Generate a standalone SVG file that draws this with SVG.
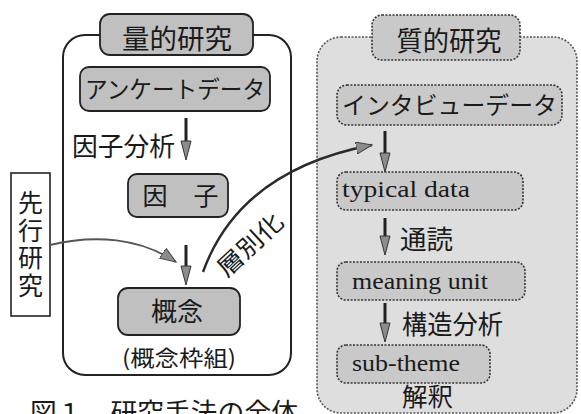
<svg xmlns="http://www.w3.org/2000/svg" width="581" height="414" viewBox="0 0 581 414">
<style>
.jp{font-family:"Noto Sans CJK JP","Noto Sans",sans-serif;fill:#1a1a1a}
.en{font-family:"Liberation Serif",serif;fill:#1a1a1a}
.box{fill:#c0c0c0;stroke:#222;stroke-width:1.8}
.qbox{fill:#c9c9c9;stroke:#333;stroke-width:1.6;stroke-dasharray:2 1.5}
.shaft{stroke:#222;stroke-width:3;fill:none}
.head{fill:#8c8c8c;stroke:#333;stroke-width:1}
</style>
<defs>
<marker id="ah" markerWidth="20" markerHeight="14" refX="16" refY="6" orient="auto" markerUnits="userSpaceOnUse">
<path d="M0,0 L16,6 L0,12 Z" fill="#8c8c8c" stroke="#444" stroke-width="1"/>
</marker>
</defs>
<rect width="581" height="414" fill="#fff"/>

<g id="quant-container">
<rect x="63" y="35" width="228" height="340" rx="22" fill="#fff" stroke="#222" stroke-width="2"/>
</g>
<g id="qual-container">
<rect x="317" y="37" width="260" height="376" rx="24" fill="#dedede" stroke="#555" stroke-width="1.6" stroke-dasharray="2 1.5"/>
</g>

<g id="quant-title">
<rect class="box" x="100" y="14" width="153" height="41" rx="10"/>
<text class="jp" x="177" y="49" font-size="27" text-anchor="middle" textLength="110" lengthAdjust="spacingAndGlyphs">量的研究</text>
</g>
<g id="survey">
<rect class="box" x="80" y="67" width="190" height="44" rx="9"/>
<text class="jp" x="175" y="98" font-size="24" text-anchor="middle" textLength="180" lengthAdjust="spacingAndGlyphs">アンケートデータ</text>
</g>
<g id="factor-label">
<text class="jp" x="72" y="156" font-size="26" textLength="103" lengthAdjust="spacingAndGlyphs">因子分析</text>
</g>
<g id="factor">
<rect class="box" x="128" y="174" width="100" height="43" rx="9"/>
<text class="jp" x="155" y="205" font-size="25" text-anchor="middle">因</text>
<text class="jp" x="206" y="205" font-size="25" text-anchor="middle">子</text>
</g>
<g id="prior">
<rect x="11" y="173" width="39" height="143" fill="#fff" stroke="#222" stroke-width="1.6"/>
<text class="jp" x="30.5" y="190" font-size="25" writing-mode="vertical-rl" textLength="108" lengthAdjust="spacing">先行研究</text>
</g>
<g id="concept">
<rect class="box" x="118" y="288" width="122" height="47" rx="10"/>
<text class="jp" x="177" y="321" font-size="26" text-anchor="middle">概念</text>
</g>
<g id="framework">
<text class="jp" x="179" y="366" font-size="22" text-anchor="middle" textLength="114" lengthAdjust="spacingAndGlyphs">(概念枠組)</text>
</g>

<g id="qual-title">
<rect class="qbox" x="372" y="15" width="148" height="45" rx="10"/>
<text class="jp" x="449" y="51" font-size="27" text-anchor="middle" textLength="105" lengthAdjust="spacingAndGlyphs">質的研究</text>
</g>
<g id="interview">
<rect class="qbox" x="337" y="85" width="225" height="40" rx="10"/>
<text class="jp" x="449.5" y="114" font-size="24" text-anchor="middle" textLength="215" lengthAdjust="spacingAndGlyphs">インタビューデータ</text>
</g>
<g id="typical">
<rect class="qbox" x="337" y="172" width="186" height="38" rx="9"/>
<text class="en" x="342" y="197" font-size="23" textLength="128" lengthAdjust="spacingAndGlyphs">typical data</text>
</g>
<g id="read-label">
<text class="jp" x="400" y="249" font-size="26" textLength="53" lengthAdjust="spacingAndGlyphs">通読</text>
</g>
<g id="meaning">
<rect class="qbox" x="337" y="262" width="188" height="38" rx="9"/>
<text class="en" x="352" y="289" font-size="23" textLength="136" lengthAdjust="spacingAndGlyphs">meaning unit</text>
</g>
<g id="struct-label">
<text class="jp" x="402" y="334" font-size="26" textLength="101" lengthAdjust="spacingAndGlyphs">構造分析</text>
</g>
<g id="subtheme">
<rect class="qbox" x="337" y="345" width="153" height="38" rx="9"/>
<text class="en" x="352" y="371" font-size="23" textLength="108" lengthAdjust="spacingAndGlyphs">sub-theme</text>
</g>
<g id="interpret-label">
<text class="jp" x="402" y="406" font-size="25" textLength="51" lengthAdjust="spacingAndGlyphs">解釈</text>
</g>

<g id="caption">
<text class="jp" x="30" y="422" font-size="26" textLength="268" lengthAdjust="spacingAndGlyphs">図１　研究手法の全体</text>
</g>

<g id="connectors">
<line class="shaft" x1="186" y1="118" x2="186" y2="142"/>
<path class="head" d="M181,141 L191,141 L186,160 Z"/>
<line class="shaft" x1="186" y1="245" x2="186" y2="267"/>
<path class="head" d="M181,266 L191,266 L186,285 Z"/>
<line class="shaft" x1="385" y1="131" x2="385" y2="154"/>
<path class="head" d="M380,153 L390,153 L385,172 Z"/>
<line class="shaft" x1="385" y1="218" x2="385" y2="237"/>
<path class="head" d="M380,236 L390,236 L385,255 Z"/>
<line class="shaft" x1="385" y1="303" x2="385" y2="324"/>
<path class="head" d="M380,323 L390,323 L385,342 Z"/>
<path d="M50,245 C95,234 140,238 176,262" fill="none" stroke="#555" stroke-width="2" marker-end="url(#ah)"/>
<path d="M203,272 Q240,170 372,145" fill="none" stroke="#2a2a2a" stroke-width="2.4" marker-end="url(#ah)"/>
<text class="jp" x="0" y="0" font-size="24" text-anchor="middle" transform="translate(256,251) rotate(-43)" textLength="80" lengthAdjust="spacingAndGlyphs">層別化</text>
</g>
</svg>
